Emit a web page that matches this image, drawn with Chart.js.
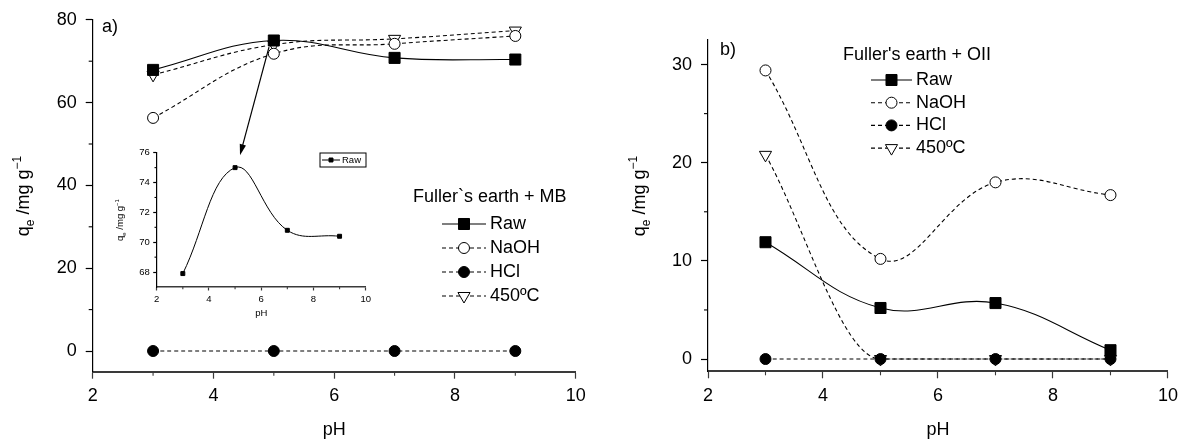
<!DOCTYPE html>
<html lang="en">
<head>
<meta charset="UTF-8">
<title>Fuller's earth uptake vs pH</title>
<script src="https://cdn.jsdelivr.net/npm/chart.js"></script>
<style>
  body { margin: 0; background: #fff; }
  #wrap { position: relative; width: 1185px; height: 445px; }
  #wrap canvas { position: absolute; }
</style>
</head>
<body>
<div id="wrap">
  <canvas id="chartA" width="600" height="445" style="left:0;top:0"></canvas>
  <canvas id="chartInset" width="270" height="185" style="left:105px;top:140px"></canvas>
  <canvas id="chartB" width="585" height="445" style="left:600px;top:0"></canvas>
</div>
<script>
const FONT = "'Liberation Sans', Arial, sans-serif";
Chart.defaults.font.family = FONT;
Chart.defaults.color = '#000';

// shared pH axis
const phValues = [3, 5, 7, 9];
const xTicks = [2, 4, 6, 8, 10];
const xMinor = [3, 5, 7, 9];

// a) methylene blue
const mbRaw = [67.9, 75.0, 70.8, 70.4];
const mbNaOH = [56.3, 71.8, 74.2, 76.1];
const mbHCl = [0, 0, 0, 0];
const mb450 = [66.7, 74.0, 75.4, 77.4];
const mbYTicks = [0, 20, 40, 60, 80];
const mbYMinor = [10, 30, 50, 70];

// inset (raw only, zoomed)
const insetYTicks = [68, 70, 72, 74, 76];
const insetYMinor = [69, 71, 73, 75];

// b) orange II
const oiiRaw = [11.9, 5.2, 5.7, 0.9];
const oiiNaOH = [29.4, 10.2, 18.0, 16.7];
const oiiHCl = [0, 0, 0, 0];
const oii450 = [20.8, 0, 0, 0];
const oiiYTicks = [0, 10, 20, 30];
const oiiYMinor = [5, 15, 25];

const seriesLabels = ['Raw', 'NaOH', 'HCl', '450ºC'];

const pts = ys => phValues.map((x, i) => ({ x, y: ys[i] }));

const markerStyles = [
  { pointStyle: 'rect', pointRadius: 7.8, pointBackgroundColor: '#000', borderDash: [] },
  { pointStyle: 'circle', pointRadius: 5.5, pointBackgroundColor: '#fff', borderDash: [4, 3] },
  { pointStyle: 'circle', pointRadius: 5.5, pointBackgroundColor: '#000', borderDash: [4, 3] },
  { pointStyle: 'triangle', pointRadius: 7, pointRotation: 180, pointBackgroundColor: '#fff', borderDash: [4, 3] }
];

function makeDatasets(values) {
  return values.map((ys, i) => Object.assign({
    label: seriesLabels[i],
    data: pts(ys),
    borderColor: '#000',
    borderWidth: 1.1,
    tension: 0.4,
    fill: false,
    pointBorderColor: '#000',
    pointBorderWidth: 1
  }, markerStyles[i]));
}

// minor tick marks on both axes
const minorTicks = {
  id: 'minorTicks',
  afterDraw(chart, args, opts) {
    const ctx = chart.ctx;
    const { x, y } = chart.scales;
    ctx.save();
    ctx.lineWidth = opts.width;
    ctx.strokeStyle = '#3a3a3a';
    opts.x.forEach(v => {
      const px = x.getPixelForValue(v);
      ctx.beginPath(); ctx.moveTo(px, x.top); ctx.lineTo(px, x.top + opts.len); ctx.stroke();
    });
    ctx.strokeStyle = '#000';
    opts.y.forEach(v => {
      const py = y.getPixelForValue(v);
      ctx.beginPath(); ctx.moveTo(y.right, py); ctx.lineTo(y.right - opts.len, py); ctx.stroke();
    });
    ctx.restore();
  }
};

// rotated y title with subscript / superscript
const yTitle = {
  id: 'yTitle',
  afterDraw(chart, args, opts) {
    const ctx = chart.ctx;
    const big = opts.size + 'px ' + FONT;
    const small = Math.round(opts.size * 0.68) + 'px ' + FONT;
    const parts = [
      { t: 'q', f: big, dy: 0 },
      { t: 'e', f: small, dy: opts.size * 0.3 },
      { t: ' /mg g', f: big, dy: 0 },
      { t: '\u22121', f: small, dy: -opts.size * 0.42 }
    ];
    ctx.save();
    ctx.translate(opts.x, opts.y);
    ctx.rotate(-Math.PI / 2);
    ctx.fillStyle = '#000';
    ctx.textBaseline = 'alphabetic';
    let w = 0;
    parts.forEach(p => { ctx.font = p.f; p.w = ctx.measureText(p.t).width; w += p.w; });
    let cx = -w / 2;
    parts.forEach(p => { ctx.font = p.f; ctx.fillText(p.t, cx, p.dy); cx += p.w; });
    ctx.restore();
  }
};

// legend: title line, then line sample + marker + label per dataset
const sampleLegend = {
  id: 'sampleLegend',
  afterDraw(chart, args, opts) {
    const ctx = chart.ctx;
    ctx.save();
    ctx.fillStyle = '#000';
    ctx.font = opts.size + 'px ' + FONT;
    ctx.textBaseline = 'middle';
    if (opts.title) ctx.fillText(opts.title, opts.titleX, opts.titleY);
    if (opts.box) {
      ctx.lineWidth = 1;
      ctx.strokeStyle = '#000';
      ctx.strokeRect(opts.box[0], opts.box[1], opts.box[2], opts.box[3]);
    }
    chart.data.datasets.forEach((ds, i) => {
      const y = opts.y0 + i * opts.dy;
      ctx.strokeStyle = '#000';
      ctx.lineWidth = ds.borderWidth;
      ctx.setLineDash(ds.borderDash || []);
      ctx.beginPath(); ctx.moveTo(opts.x0, y); ctx.lineTo(opts.x1, y); ctx.stroke();
      ctx.setLineDash([]);
      ctx.fillStyle = ds.pointBackgroundColor;
      ctx.lineWidth = ds.pointBorderWidth;
      Chart.helpers.drawPoint(ctx, {
        pointStyle: ds.pointStyle,
        rotation: ds.pointRotation || 0,
        radius: ds.pointRadius * (opts.markerScale || 1),
        borderWidth: ds.pointBorderWidth
      }, (opts.x0 + opts.x1) / 2, y);
      ctx.fillStyle = '#000';
      ctx.fillText(ds.label, opts.textX, y);
    });
    ctx.restore();
  }
};

// panel letter and pointer arrow
const extras = {
  id: 'extras',
  afterDraw(chart, args, opts) {
    const ctx = chart.ctx;
    ctx.save();
    ctx.fillStyle = '#000';
    if (opts.letter) {
      ctx.font = opts.letterSize + 'px ' + FONT;
      ctx.textBaseline = 'alphabetic';
      ctx.fillText(opts.letter, opts.letterX, opts.letterY);
    }
    if (opts.arrow) {
      const { x, y } = chart.scales;
      const x0 = x.getPixelForValue(opts.arrow.from[0]), y0 = y.getPixelForValue(opts.arrow.from[1]);
      const x1 = x.getPixelForValue(opts.arrow.to[0]), y1 = y.getPixelForValue(opts.arrow.to[1]);
      const ang = Math.atan2(y1 - y0, x1 - x0);
      const head = 11, half = 3.2;
      ctx.strokeStyle = '#000';
      ctx.lineWidth = 1.2;
      ctx.beginPath();
      ctx.moveTo(x0, y0);
      ctx.lineTo(x1 - Math.cos(ang) * head * 0.8, y1 - Math.sin(ang) * head * 0.8);
      ctx.stroke();
      ctx.beginPath();
      ctx.moveTo(x1, y1);
      ctx.lineTo(x1 - Math.cos(ang) * head - Math.sin(ang) * half, y1 - Math.sin(ang) * head + Math.cos(ang) * half);
      ctx.lineTo(x1 - Math.cos(ang) * head + Math.sin(ang) * half, y1 - Math.sin(ang) * head - Math.cos(ang) * half);
      ctx.closePath();
      ctx.fill();
    }
    ctx.restore();
  }
};

function makeOptions(c) {
  return {
    responsive: false,
    animation: false,
    events: [],
    layout: { padding: { top: c.padTop, right: c.padRight, bottom: 0, left: 0 } },
    scales: {
      x: {
        type: 'linear',
        min: 2, max: 10,
        afterBuildTicks: s => { s.ticks = xTicks.map(v => ({ value: v })); },
        afterFit: s => { s.height = c.xHeight; },
        border: { display: true, color: '#3a3a3a', width: c.xBorder },
        grid: { drawOnChartArea: false, tickLength: c.tickLen, tickColor: '#3a3a3a', tickWidth: 1.2 },
        ticks: { font: { size: c.tickSize }, padding: c.xPad, maxRotation: 0 },
        title: { display: true, text: 'pH', font: { size: c.titleSize }, padding: { top: 0, bottom: c.titlePad } }
      },
      y: {
        type: 'linear',
        min: c.yMin, max: c.yMax,
        afterBuildTicks: s => { s.ticks = c.yTicks.map(v => ({ value: v })); },
        afterFit: s => { s.width = c.yWidth; },
        border: { display: true, color: '#000', width: 1.2 },
        grid: { drawOnChartArea: false, tickLength: c.tickLen, tickColor: '#000', tickWidth: 1.2 },
        ticks: { font: { size: c.tickSize }, padding: c.yPad }
      }
    },
    plugins: {
      legend: { display: false },
      tooltip: { enabled: false },
      minorTicks: { x: xMinor, y: c.yMinor, len: c.minorLen, width: 1.1 },
      yTitle: c.yTitle,
      sampleLegend: c.legend,
      extras: c.extras
    }
  };
}

const plugins = [minorTicks, yTitle, sampleLegend, extras];

new Chart(document.getElementById('chartA'), {
  type: 'line',
  data: { datasets: makeDatasets([mbRaw, mbNaOH, mbHCl, mb450]) },
  options: makeOptions({
    padTop: 15.7, padRight: 24.3, xHeight: 73.3, yWidth: 92.7,
    yMin: -5, yMax: 80, yTicks: mbYTicks, yMinor: mbYMinor,
    tickLen: 7, minorLen: 4, xBorder: 2, tickSize: 18, titleSize: 18,
    xPad: 7, yPad: 9, titlePad: 4.2,
    yTitle: { x: 29, y: 196, size: 18 },
    legend: { size: 18, title: 'Fuller`s earth + MB', titleX: 413, titleY: 197,
              x0: 442, x1: 486, textX: 490, y0: 224, dy: 24 },
    extras: { letter: 'a)', letterX: 102, letterY: 32, letterSize: 18,
              arrow: { from: [4.92, 73.4], to: [4.44, 47.3] } }
  }),
  plugins
});

const insetRaw = makeDatasets([mbRaw]);
Object.assign(insetRaw[0], { pointRadius: 2.8, borderWidth: 1 });

new Chart(document.getElementById('chartInset'), {
  type: 'line',
  data: { datasets: insetRaw },
  options: makeOptions({
    padTop: 12.7, padRight: 9.3, xHeight: 38, yWidth: 51.7,
    yMin: 67, yMax: 76, yTicks: insetYTicks, yMinor: insetYMinor,
    tickLen: 3.5, minorLen: 2.2, xBorder: 1.5, tickSize: 9.5, titleSize: 9.5,
    xPad: 3, yPad: 3.5, titlePad: 6,
    yTitle: { x: 18, y: 80, size: 9.5 },
    legend: { size: 9.5, box: [215, 13, 46, 14],
              x0: 217, x1: 235, textX: 237, y0: 20, dy: 0, markerScale: 1 },
    extras: {}
  }),
  plugins
});

const oiiSets = makeDatasets([oiiRaw, oiiNaOH, oiiHCl, oii450]);
oiiSets[3].cubicInterpolationMode = 'monotone';

new Chart(document.getElementById('chartB'), {
  type: 'line',
  data: { datasets: oiiSets },
  options: makeOptions({
    padTop: 40, padRight: 17, xHeight: 73.7, yWidth: 108,
    yMin: -1.25, yMax: 32.5, yTicks: oiiYTicks, yMinor: oiiYMinor,
    tickLen: 7, minorLen: 4, xBorder: 2, tickSize: 18, titleSize: 18,
    xPad: 7, yPad: 9, titlePad: 4.2,
    yTitle: { x: 45, y: 196, size: 18 },
    legend: { size: 18, title: "Fuller's earth + OII", titleX: 243, titleY: 55,
              x0: 271, x1: 312, textX: 316, y0: 80, dy: 22.7 },
    extras: { letter: 'b)', letterX: 120, letterY: 55, letterSize: 18 }
  }),
  plugins
});
</script>
</body>
</html>
